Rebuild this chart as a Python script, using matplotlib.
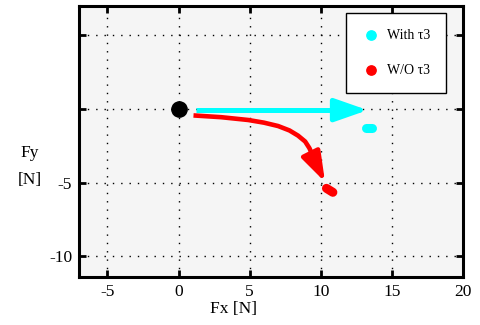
import matplotlib
matplotlib.use("Agg")
import matplotlib.pyplot as plt
from matplotlib.patches import ArrowStyle

plt.rcParams["font.family"] = ["Liberation Serif", "DejaVu Serif"]
plt.rcParams["axes.unicode_minus"] = False

# start point of both force trajectories
origin = (0.0, 0.0)

# with tau3: straight run along Fx, then settled value
with_x = [1.2, 11.4]
with_y = [-0.07, -0.07]
with_tip = (13.3, -0.07)
with_end_x = [13.2, 13.6]
with_end_y = [-1.3, -1.3]

# without tau3: curve bending down, then settled value
wo_x = [1.05, 3.0, 4.9, 6.0, 7.0, 7.8, 8.4, 8.9, 9.2, 9.45, 9.6]
wo_y = [-0.43, -0.55, -0.74, -0.92, -1.15, -1.45, -1.8, -2.2, -2.65, -3.2, -3.6]
wo_tip = (10.3, -4.95)
wo_end_x = [10.4, 10.85]
wo_end_y = [-5.38, -5.65]

x_ticks = [-5, 0, 5, 10, 15, 20]
y_ticks = [5, 0, -5, -10]
y_ticklabels = ["", "", "-5", "-10"]

CYAN = "#00ffff"
RED = "#ff0000"

fig = plt.figure(figsize=(4.8, 3.25), dpi=100)
ax = fig.add_axes([79 / 480, 1 - 277 / 325, 384 / 480, 271 / 325])
ax.set_facecolor("#f5f5f5")

ax.set_xlim(-7, 20)
ax.set_ylim(-11.4, 7)
ax.set_xticks(x_ticks)
ax.set_yticks(y_ticks)
ax.set_yticklabels(y_ticklabels)
ax.grid(True, color="black", linestyle=(0, (1, 5)), linewidth=1.0)
ax.set_axisbelow(True)
for spine in ax.spines.values():
    spine.set_linewidth(2.2)
ax.tick_params(direction="in", length=5, width=2, top=True, right=True,
               labelsize=12.5, pad=5)

# cyan: with tau3
ax.plot(with_x, with_y, color=CYAN, linewidth=3.6, solid_capstyle="butt", zorder=3)
ax.annotate("", xy=with_tip, xytext=(with_x[-1], with_y[-1]),
            arrowprops=dict(arrowstyle=ArrowStyle("-|>", head_length=2.0, head_width=0.7),
                            mutation_scale=10, color=CYAN, linewidth=3.6, shrinkA=0, shrinkB=0),
            zorder=3)
ax.plot(with_end_x, with_end_y, color=CYAN, linewidth=6.5, solid_capstyle="round", zorder=3)

# red: without tau3
ax.plot(wo_x, wo_y, color=RED, linewidth=3.3, solid_capstyle="butt", zorder=3)
ax.annotate("", xy=wo_tip, xytext=(wo_x[-1], wo_y[-1]),
            arrowprops=dict(arrowstyle=ArrowStyle("-|>", head_length=1.8, head_width=0.6),
                            mutation_scale=10, color=RED, linewidth=3.3, shrinkA=0, shrinkB=0),
            zorder=3)
ax.plot(wo_end_x, wo_end_y, color=RED, linewidth=6.5, solid_capstyle="round", zorder=3)

ax.plot(*origin, "o", color="black", markersize=11, zorder=4)

# legend handles
ax.scatter([], [], s=45, color=CYAN, label="With \u03c43")
ax.scatter([], [], s=45, color=RED, label="W/O \u03c43")
leg = ax.legend(loc="upper right", bbox_to_anchor=(0.957, 0.974), fontsize=10,
                frameon=True, fancybox=False, edgecolor="black", framealpha=1,
                labelspacing=1.55, borderpad=1.15, handlelength=1.2,
                handletextpad=0.6, borderaxespad=0)
leg.get_frame().set_linewidth(1.0)

fig.text(233 / 480, 1 - 309 / 325, "Fx [N]", ha="center", va="center", fontsize=12.5)
fig.text(30 / 480, 1 - 153 / 325, "Fy", ha="center", va="center", fontsize=12.5)
fig.text(30 / 480, 1 - 180 / 325, "[N]", ha="center", va="center", fontsize=12.5)

fig.savefig("out.png", dpi=100, facecolor="white")
